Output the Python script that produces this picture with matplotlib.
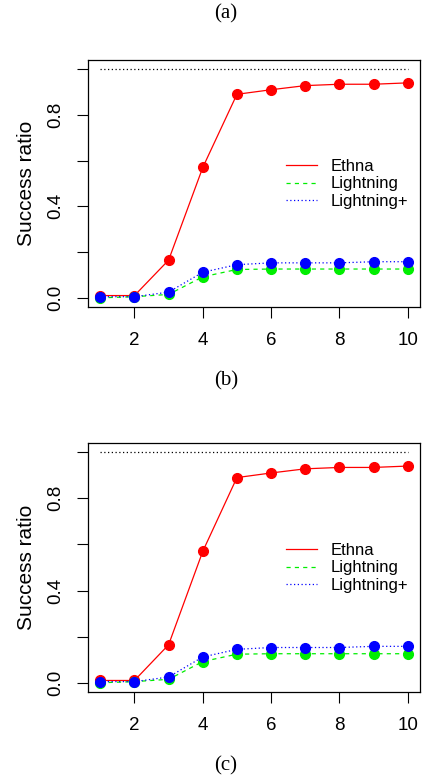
import matplotlib
matplotlib.use("Agg")
import matplotlib.pyplot as plt

# data (both panels show the same curves)
steps = [1, 2, 3, 4, 5, 6, 7, 8, 9, 10]
ethna = [0.01, 0.01, 0.165, 0.57, 0.89, 0.91, 0.928, 0.934, 0.934, 0.94]
lightning = [0.0, 0.005, 0.015, 0.092, 0.124, 0.126, 0.126, 0.126, 0.126, 0.126]
lightning_plus = [0.005, 0.005, 0.025, 0.112, 0.145, 0.153, 0.153, 0.153, 0.158, 0.158]
upper = [1.0, 1.0]
upper_x = [1, 10]
yticks = [0.0, 0.2, 0.4, 0.6, 0.8, 1.0]
ytick_labels = ["0.0", "", "0.4", "", "0.8", ""]
xticks = [2, 4, 6, 8, 10]
captions = ["(a)", "(b)", "(c)"]

plt.rcParams['font.family'] = ['Liberation Sans', 'DejaVu Sans']
plt.rcParams['lines.scale_dashes'] = False

W, H = 423, 782
fig = plt.figure(figsize=(W / 100, H / 100), dpi=100)


def panel(top_px, bottom_px):
    ax = fig.add_axes([88 / W, 1 - bottom_px / H, 332 / W, (bottom_px - top_px) / H])
    ax.plot(upper_x, upper, color='black', lw=0.9, dashes=(0.9, 1.8))
    ax.plot(steps, ethna, color='#ff0000', lw=0.9, marker='o', ms=7,
            label='Ethna')
    ax.plot(steps, lightning, color='#00ee00', lw=0.9, dashes=(3, 3),
            marker='o', ms=7, label='Lightning')
    ax.plot(steps, lightning_plus, color='#0000ff', lw=0.9, dashes=(0.9, 1.8),
            marker='o', ms=7, label='Lightning+')
    ax.set_xlim(0.64, 10.36)
    ax.set_ylim(-0.04, 1.04)
    ax.set_xticks(xticks)
    ax.set_yticks(yticks)
    ax.set_yticklabels(ytick_labels, rotation=90, va='center')
    ax.tick_params(axis='both', direction='out', length=8, width=0.8,
                   labelsize=13.5)
    ax.tick_params(axis='x', pad=10)
    ax.tick_params(axis='y', pad=9)
    for s in ax.spines.values():
        s.set_linewidth(0.9)
    ax.set_ylabel('Success ratio', fontsize=15)
    ax.yaxis.set_label_coords(-0.158, 0.5)
    ax.legend(loc='center left', bbox_to_anchor=(0.596, 0.498), frameon=False,
              fontsize=12, handlelength=1.85, handletextpad=0.85,
              labelspacing=0.15, borderpad=0, borderaxespad=0,
              markerscale=0)
    return ax


ax1 = panel(60, 307)
ax2 = panel(443, 692)

for cap, ypx in zip(captions, [14, 381, 766]):
    fig.text(226 / W, 1 - ypx / H, cap, ha='center', va='center',
             family=['Liberation Serif', 'DejaVu Serif'], fontsize=15)

fig.savefig('out.png', dpi=100)
